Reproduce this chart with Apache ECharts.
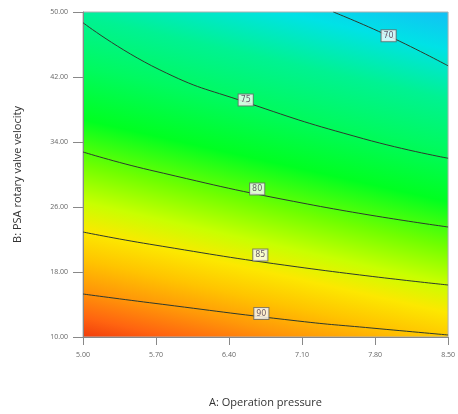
<!DOCTYPE html>
<html>
<head>
<meta charset="utf-8">
<script src="https://cdn.jsdelivr.net/npm/echarts@6/dist/echarts.min.js"></script>
<style>
  html, body { margin: 0; padding: 0; background: #fff; }
  #main { width: 458px; height: 414px; }
</style>
</head>
<body>
<div id="main"></div>
<script>
  //contour levels
  var levels = [70, 75, 80, 85, 90];

  //contour lines, [A, B] points
  var line70 = [[7.40, 50.00], [7.93, 47.05], [8.50, 43.38]];
  var line75 = [[5.00, 48.68], [5.73, 42.92], [6.56, 38.90], [7.69, 34.40], [8.50, 32.00]];
  var line80 = [[5.00, 32.77], [5.64, 30.55], [7.15, 26.37], [8.50, 23.54]];
  var line85 = [[5.00, 22.92], [5.64, 21.42], [7.06, 18.62], [8.50, 16.40]];
  var line90 = [[5.00, 15.29], [5.64, 14.22], [7.06, 11.97], [7.77, 11.10], [8.50, 10.25]];
  var contourLines = [line70, line75, line80, line85, line90];

  //label positions
  var labelPos = [[7.93, 47.08], [6.56, 39.17], [6.67, 28.22], [6.70, 20.09], [6.71, 12.90]];

  //axes
  var xMin = 5.0, xMax = 8.5, xStep = 0.7;
  var yMin = 10, yMax = 50, yStep = 8;

  var chart = echarts.init(document.getElementById('main'), null, {renderer: 'canvas'});

  //response surface colours (red high -> blue low)
  var surface = new echarts.graphic.LinearGradient(0, 1, 0.24, -0.2, [
    {offset: 0.00, color: '#f03c0c'},
    {offset: 0.05, color: '#ff6410'},
    {offset: 0.12, color: '#ff9808'},
    {offset: 0.19, color: '#ffc400'},
    {offset: 0.26, color: '#fce800'},
    {offset: 0.33, color: '#c8ff00'},
    {offset: 0.42, color: '#70ff00'},
    {offset: 0.53, color: '#00ff20'},
    {offset: 0.66, color: '#00fa60'},
    {offset: 0.78, color: '#00f292'},
    {offset: 0.90, color: '#00e2e6'},
    {offset: 1.00, color: '#14bdf6'}
  ]);

  var series = [];
  for (var i = 0; i < contourLines.length; i++) {
    series.push({
      name: 'R' + levels[i],
      type: 'line',
      data: contourLines[i],
      smooth: true,
      showSymbol: false,
      lineStyle: {color: '#2e3a2e', width: 1},
      z: 2
    });
  }

  var labelData = [];
  for (var j = 0; j < labelPos.length; j++) {
    labelData.push({value: labelPos[j], name: String(levels[j])});
  }
  series.push({
    type: 'scatter',
    data: labelData,
    symbolSize: 1,
    itemStyle: {color: 'rgba(0,0,0,0)'},
    label: {
      show: true,
      position: 'inside',
      formatter: '{b}',
      fontFamily: 'DejaVu Sans',
      fontSize: 8,
      color: '#4a3850',
      backgroundColor: '#ffffff',
      borderColor: '#6a6a6a',
      borderWidth: 1,
      padding: [2, 2, 1, 2]
    },
    z: 5
  });

  var option = {
    animation: false,
    grid: {
      left: 83,
      right: 6,
      top: 12,
      bottom: 77,
      show: true,
      backgroundColor: surface,
      borderColor: '#b0b0b0',
      borderWidth: 1
    },
    xAxis: {
      type: 'value',
      min: xMin,
      max: xMax,
      interval: xStep,
      name: 'A: Operation pressure',
      nameLocation: 'middle',
      nameGap: 60,
      nameTextStyle: {fontFamily: 'Open Sans', fontSize: 11, color: '#333'},
      axisLine: {show: true, lineStyle: {color: '#888'}},
      axisTick: {show: true, length: 8, lineStyle: {color: '#888'}},
      axisLabel: {
        margin: 14,
        fontFamily: 'Open Sans',
        fontSize: 7,
        color: '#666',
        formatter: function (v) { return v.toFixed(2); }
      },
      splitLine: {show: false}
    },
    yAxis: {
      type: 'value',
      min: yMin,
      max: yMax,
      interval: yStep,
      name: 'B: PSA rotary valve velocity',
      nameLocation: 'middle',
      nameGap: 60,
      nameTextStyle: {fontFamily: 'Open Sans', fontSize: 11, color: '#333'},
      axisLine: {show: true, lineStyle: {color: '#888'}},
      axisTick: {show: true, length: 10, lineStyle: {color: '#888'}},
      axisLabel: {
        margin: 15,
        fontFamily: 'Open Sans',
        fontSize: 7,
        color: '#666',
        formatter: function (v) { return v.toFixed(2); }
      },
      splitLine: {show: false}
    },
    series: series
  };

  chart.setOption(option);
</script>
</body>
</html>
